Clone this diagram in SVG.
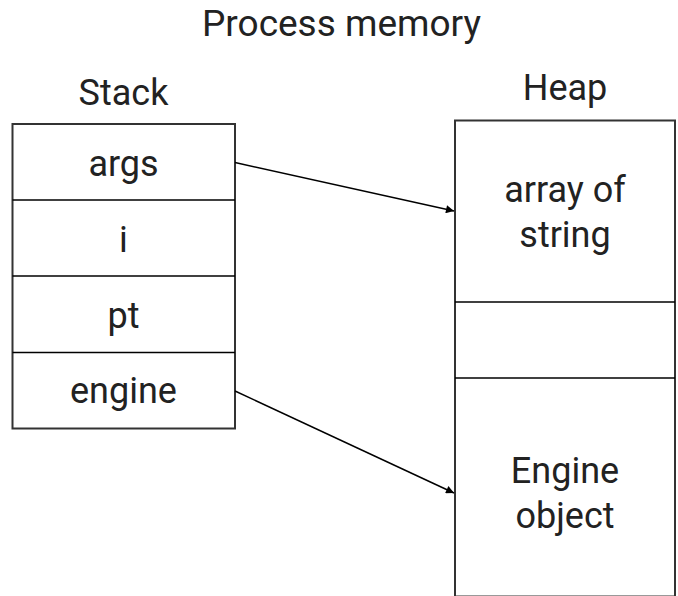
<svg xmlns="http://www.w3.org/2000/svg" width="678" height="596" viewBox="0 0 678 596">
<defs>
<marker id="arr" viewBox="0 0 10 10" refX="10" refY="5" markerWidth="12" markerHeight="8" markerUnits="userSpaceOnUse" orient="auto">
<path d="M0,0 L10,5 L0,10 z" fill="#000"/>
</marker>
<style>
.t{font-family:Roboto,"Liberation Sans",sans-serif;fill:#222;text-anchor:middle}
.title{font-size:37px}
.lbl{font-size:36px}
.box{fill:#fff;stroke:#333;stroke-width:2}
.div{stroke:#000;stroke-width:1.5}
.con{stroke:#000;stroke-width:1.5;fill:none}
</style>
</defs>
<rect width="678" height="596" fill="#fff"/>
<text class="t title" x="341.5" y="36">Process memory</text>
<g id="stack">
<text class="t lbl" x="123.5" y="105">Stack</text>
<rect class="box" x="12.5" y="124" width="222.5" height="304.5"/>
<line class="div" x1="12.5" y1="200" x2="235" y2="200"/>
<line class="div" x1="12.5" y1="276" x2="235" y2="276"/>
<line class="div" x1="12.5" y1="352.5" x2="235" y2="352.5"/>
</g>
<g id="args"><text class="t lbl" x="123.5" y="176">args</text></g>
<g id="i"><text class="t lbl" x="123.5" y="252">i</text></g>
<g id="pt"><text class="t lbl" x="123.5" y="328">pt</text></g>
<g id="engine"><text class="t lbl" x="123.5" y="403">engine</text></g>
<g id="heap">
<text class="t lbl" x="565" y="100">Heap</text>
<rect class="box" x="455" y="120.5" width="220" height="476"/>
<line class="div" x1="455" y1="302" x2="675" y2="302"/>
<line class="div" x1="455" y1="378" x2="675" y2="378"/>
</g>
<g id="array"><text class="t lbl" x="565" y="201.5">array of</text><text class="t lbl" x="565" y="246.5">string</text></g>
<g id="engineobj"><text class="t lbl" x="565" y="483">Engine</text><text class="t lbl" x="565" y="528">object</text></g>
<g id="connectors">
<line class="con" x1="235" y1="162.5" x2="454" y2="211" marker-end="url(#arr)"/>
<line class="con" x1="235" y1="391" x2="454" y2="493" marker-end="url(#arr)"/>
</g>
</svg>
